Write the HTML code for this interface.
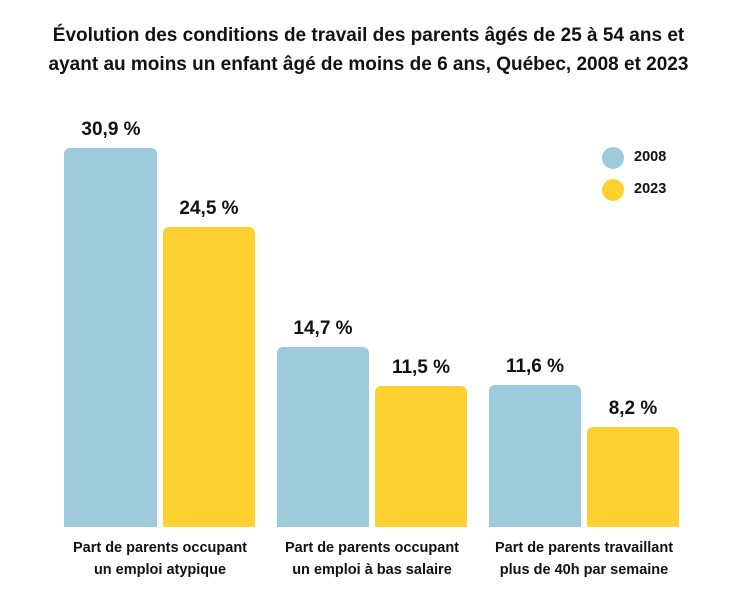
<!DOCTYPE html>
<html><head><meta charset="utf-8"><style>
body{margin:0;width:737px;height:614px;background:#fff;font-family:"Liberation Sans",sans-serif;position:relative;overflow:hidden;color:#111}
.t{position:absolute;left:0;width:737px;text-align:center;font-weight:bold;font-size:19px;line-height:29px;top:21px}
.b{position:absolute;border-radius:6px 6px 0 0}
.bl{background:#9dcbdc}.ye{background:#fed130}
.v{position:absolute;width:92px;text-align:center;font-weight:bold;font-size:19px}
.c{position:absolute;width:200px;text-align:center;font-weight:bold;font-size:14.5px;line-height:22px;top:537px}
.d{position:absolute;width:22px;height:22px;border-radius:50%}
.l{position:absolute;font-weight:bold;font-size:14.5px}
</style></head><body>
<div class="t">Évolution des conditions de travail des parents âgés de 25 à 54 ans et<br>ayant au moins un enfant âgé de moins de 6 ans, Québec, 2008 et 2023</div>
<div class="b bl" style="left:64px;top:148px;width:93px;height:379px"></div>
<div class="b ye" style="left:163px;top:227px;width:92px;height:300px"></div>
<div class="b bl" style="left:277px;top:347px;width:92px;height:180px"></div>
<div class="b ye" style="left:375px;top:386px;width:92px;height:141px"></div>
<div class="b bl" style="left:489px;top:385px;width:92px;height:142px"></div>
<div class="b ye" style="left:587px;top:427px;width:92px;height:100px"></div>
<div class="v" style="left:65px;top:119px">30,9 %</div>
<div class="v" style="left:163px;top:198px">24,5 %</div>
<div class="v" style="left:277px;top:318px">14,7 %</div>
<div class="v" style="left:375px;top:357px">11,5 %</div>
<div class="v" style="left:489px;top:356px">11,6 %</div>
<div class="v" style="left:587px;top:398px">8,2 %</div>
<div class="c" style="left:60px">Part de parents occupant<br>un emploi atypique</div>
<div class="c" style="left:272px">Part de parents occupant<br>un emploi à bas salaire</div>
<div class="c" style="left:484px">Part de parents travaillant<br>plus de 40h par semaine</div>
<div class="d bl" style="left:602px;top:147px"></div><div class="l" style="left:634px;top:149px">2008</div>
<div class="d ye" style="left:602px;top:179px"></div><div class="l" style="left:634px;top:181px">2023</div>
</body></html>
